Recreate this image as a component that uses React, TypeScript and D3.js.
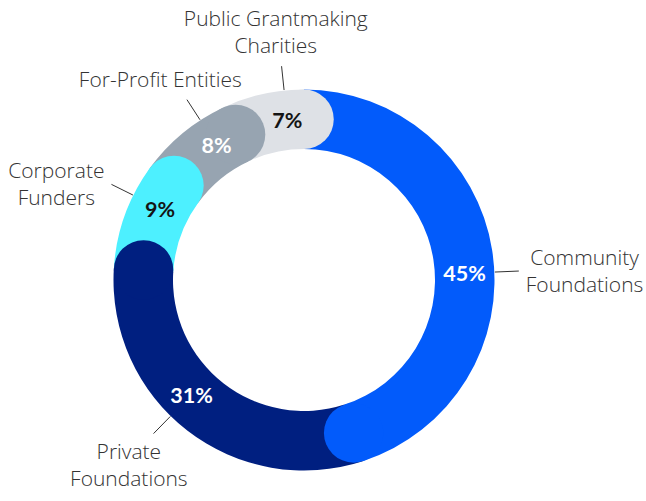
import React, { useEffect, useRef } from "react";
import * as d3 from "d3";

// Data
const categories = [
  "Community Foundations",
  "Private Foundations",
  "Corporate Funders",
  "For-Profit Entities",
  "Public Grantmaking Charities",
];
const labelLines = [
  ["Community", "Foundations"],
  ["Private", "Foundations"],
  ["Corporate", "Funders"],
  ["For-Profit Entities"],
  ["Public Grantmaking", "Charities"],
];
const shares = [45, 31, 9, 8, 7];
const shareLabels = ["45%", "31%", "9%", "8%", "7%"];

const W = 646;
const H = 501;
const palette = ["#025BFB", "#001F80", "#4DF0FF", "#97A4B1", "#DEE1E6"];
const pctColors = ["#ffffff", "#ffffff", "#141414", "#ffffff", "#141414"];

export default function App() {
  const ref = useRef<SVGSVGElement>(null);

  useEffect(() => {
    if (!ref.current) return;
    const svg = d3.select(ref.current);
    svg.selectAll("*").remove();

    const cx = 304;
    const cy = 280;
    const rO = 190.5;
    const rI = 131;
    const rM = (rO + rI) / 2;
    const capR = (rO - rI) / 2;

    const pie = d3
      .pie<number>()
      .sort(null)
      .value((d) => d)
      .startAngle(0)
      .endAngle(2 * Math.PI);
    const arcs = pie(shares);
    const arc = d3
      .arc<d3.PieArcDatum<number>>()
      .innerRadius(rI)
      .outerRadius(rO);

    const pt = (a: number, r: number) => [r * Math.sin(a), -r * Math.cos(a)];

    const g = svg.append("g").attr("transform", `translate(${cx},${cy})`);

    g.selectAll("path.body")
      .data(arcs)
      .join("path")
      .attr("class", "body")
      .attr("d", arc as any)
      .attr("fill", (_d, i) => palette[i]);

    g.selectAll("circle.cap")
      .data(arcs)
      .join("circle")
      .attr("class", "cap")
      .attr("cx", (d) => pt(d.endAngle, rM)[0])
      .attr("cy", (d) => pt(d.endAngle, rM)[1])
      .attr("r", capR)
      .attr("fill", (_d, i) => palette[i]);

    const shift = Math.asin(capR / rM) * 0.62;
    const labelAngle = (d: d3.PieArcDatum<number>) =>
      (d.startAngle + d.endAngle) / 2 + shift;

    g.selectAll("text.pct")
      .data(arcs)
      .join("text")
      .attr("class", "pct")
      .attr("x", (d) => pt(labelAngle(d), rM)[0])
      .attr("y", (d) => pt(labelAngle(d), rM)[1])
      .attr("text-anchor", "middle")
      .attr("dominant-baseline", "central")
      .attr("font-family", "Lato, 'Noto Sans', sans-serif")
      .attr("font-weight", 700)
      .attr("font-size", 21.5)
      .attr("fill", (_d, i) => pctColors[i])
      .text((_d, i) => shareLabels[i]);

    const r1 = 191;
    const r2 = 215;
    const lineH = 27;
    const capH = 15;

    arcs.forEach((d, i) => {
      const a = labelAngle(d);
      const ux = Math.sin(a);
      const uy = -Math.cos(a);
      const [x1, y1] = pt(a, r1);
      const [x2, y2] = pt(a, r2);
      g.append("line")
        .attr("x1", x1)
        .attr("y1", y1)
        .attr("x2", x2)
        .attr("y2", y2)
        .attr("stroke", "#333")
        .attr("stroke-width", 1);

      const lines = labelLines[i];
      const t = g
        .append("text")
        .attr("font-family", "'Open Sans', Lato, sans-serif")
        .attr("font-weight", 300)
        .attr("font-size", 21)
        .attr("fill", "#333")
        .attr("text-anchor", "middle")
        .attr("aria-label", categories[i]);
      lines.forEach((ln, k) => {
        t.append("tspan").attr("x", 0).attr("dy", k === 0 ? 0 : lineH).text(ln);
      });
      const w = (t.node() as SVGTextElement).getBBox().width;
      const n = lines.length;
      let tx: number;
      let firstBase: number;
      if (Math.abs(ux) >= 0.85) {
        tx = x2 + Math.sign(ux) * (7 + w / 2);
        const blockH = capH + (n - 1) * lineH;
        firstBase = y2 - blockH / 2 + capH;
      } else if (uy < 0) {
        tx = x2 + ux * w * 0.3;
        firstBase = y2 - 13 - (n - 1) * lineH;
      } else {
        tx = x2 + ux * w * 0.3;
        firstBase = y2 + 10 + capH;
      }
      t.attr("transform", `translate(${tx},${firstBase})`);
    });
  }, []);

  return (
    <svg
      ref={ref}
      width={W}
      height={H}
      style={{ position: "absolute", left: 0, top: 0, display: "block", background: "#fff" }}
    />
  );
}
